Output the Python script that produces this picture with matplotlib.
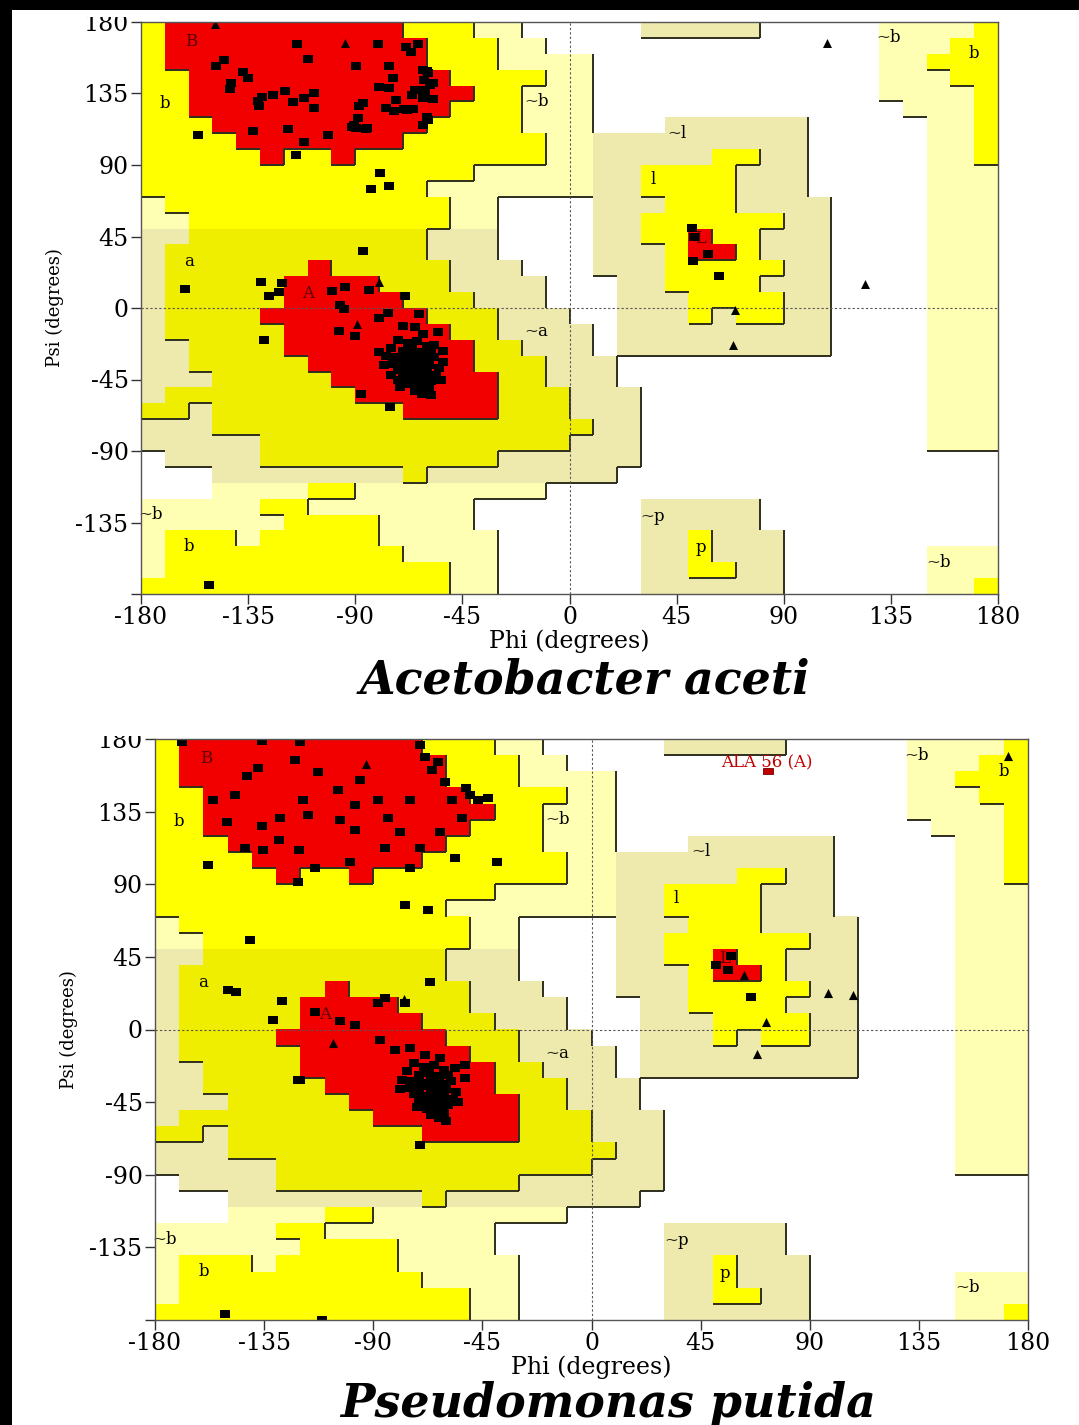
import numpy as np
import matplotlib.pyplot as plt
from matplotlib.colors import ListedColormap
from matplotlib.collections import LineCollection
from matplotlib.patches import Rectangle

# Ramachandran region map, 10 degree cells.
# rows: psi 180 -> -180 (top to bottom), cols: phi -180 -> 180
# R core, Y/y allowed, P/K generously allowed, . disallowed
region_rows = [
    "YRRRRRRRRRRYYYPP.....KKKKK.....PPPPY",
    "YRRRRRRRRRRRYYYPP..............PPPYY",
    "YRRRRRRRRRRRYYYPPPP............PPYYY",
    "YYRRRRRRRRRRRYYYYPP............PPPYY",
    "YYRRRRRRRRRRRRYYPPP............PPPPY",
    "YYRRRRRRRRRRRYYYPPP.............PPPY",
    "YYYRRRRRRRRRYYYYPPP...KKKKKK.....PPY",
    "YYYYRRRRRRRYYYYYYPPKKKKKKKKK.....PPY",
    "YYYYYRYYRYYYYYYYYPPKKKKKYYKK.....PPY",
    "YYYYYYYYYYYYYYPPPPPKKYYYYKKK.....PPP",
    "YYYYYYYYYYYYPPPPPPPKKYYYYKKK.....PPP",
    "PYYYYYYYYYYYYPP....KKKYYYKKKK....PPP",
    "PPYYYYYYYYYYYPP....KKYYYYYYKK....PPP",
    "KKyyyyyyyyyyKKK....KKYYRYYKKK....PPP",
    "KyyyyyyyyyyyKKK....KKKYRRYKKK....PPP",
    "KyyyyyyRyyyyyKKK...KKKYYYYYKK....PPP",
    "KyyyyyRRRRyyyKKKK...KKYYYYKKK....PPP",
    "KyyyyyRRRRRyyyKKK...KKKYYYYKK....PPP",
    "KyyyyRRRRRRRyyyKKK..KKKYKYYKK....PPP",
    "KyyyyyRRRRRRRyyKKKK.KKKKKKKKK....PPP",
    "KKyyyyRRRRRRRRyyKKK.KKKKKKKKK....PPP",
    "KKyyyyyRRRRRRRyyyKKK.............PPP",
    "KKKyyyyyRRRRRRRyyKKK.............PPP",
    "KyyyyyyyyRRRRRRyyyKKK............PPP",
    "yyKyyyyyyyyRRRRyyyKKK............PPP",
    "KKKyyyyyyyyyyyyyyyyKK............PPP",
    "KKKKKyyyyyyyyyyyyyKKK............PPP",
    ".KKKKyyyyyyyyyyKKKKKK...............",
    "...KKKKKKKKyKKKKKKKK................",
    "...PPPPYYPPPPPPPP...................",
    "PPPPPYYPPPPPPP.......KKKKK..........",
    "PPPPPPYYYYPPPP.......KKKKK..........",
    "PYYYPYYYYYPPPPP......KKYKKK.........",
    "PYYYYYYYYYYPPPP......KKYKKK......PPP",
    "PYYYYYYYYYYYYPP......KKYYKK......PPP",
    "YYYYYYYYYYYYYPP......KKKKKK......PPY",
]

codes = ".PKYyR"
region_colors = ["#ffffff", "#ffffb4", "#eeeaae", "#ffff00", "#efed00", "#f20000"]
levels = {".": 0, "P": 1, "K": 1, "Y": 2, "y": 2, "R": 3}

region_labels = [
    ("B", -159, 168), ("b", -170, 129), ("a", -160, 29), ("A", -110, 9),
    ("~b", -14, 130), ("~a", -14, -15), ("~l", 45, 110), ("l", 35, 81),
    ("L", 55, 44), ("~p", 35, -131), ("p", 55, -151), ("~b", 134, 170),
    ("b", 170, 160), ("~b", -176, -130), ("b", -160, -150), ("~b", 155, -160),
]

# Acetobacter aceti residues
aceti_sq_phi = [
    -114.5, -80.3, -68.7, -66.6, -63.7, -109.7, -148.5, -145, -89.7, -76,
    -137, -135, -142, -142.5, -60, -61, -74.3, -75.7, -80, -119.4,
    -131, -129, -124.7, -130.3, -116.3, -111.4, -107.2, -107.5, -86.9, -88.3,
    -77, -73.6, -72.9, -69.4, -65.9, -133, -118.4, -101.3, -111.4, -89,
    -90.4, -89.7, -85.5, -155.9, -115, -79.5, -83.4, -75.7, -61.6, -59.5,
    -60.7, -62.8, -58.6, -57.3, -57.3, -59.9, -59.5, -61.6, -66.3, -64.9,
    -68.4, -61.7, -91.5, -85.2,
    -86.9, -161.4, -129.6, -120.9, -126.1, -121.9, -99.9, -94.2, -84.4, -96.4,
    -94.6, -69.1, -128.2, -80.2, -76.4, -63.1, -97, -90, -70.1, -64.8,
    -61.7, -55.1, -53, -87.6, -75.4, -151.3,
    -72, -68, -64, -60, -75, -70, -66, -62, -58, -77,
    -73, -69, -65, -61, -57, -74, -70, -67, -63, -59,
    -55, -72, -68, -64, -60, -56, -70, -66, -62, -58,
    -67, -63, -60, -65, -62, -78, -80, -57, -53, -66,
    -61, -69, -75, -54, -71, -58,
    -71, -67, -64, -61, -69, -65, -62, -59, -68, -64,
    -60, -66, -63, -70, -65, -61, -67, -63, -72, -59,
    51.5, 52.2, 58.3, 52, 62.8,
]
aceti_sq_psi = [
    166, 166, 164, 161, 166, 157, 152, 156, 152, 152,
    148.5, 145, 141.6, 138, 149, 143.7, 145, 138.5, 139, 136.8,
    130.5, 133, 134, 127, 129.5, 132, 135, 126, 129, 127,
    126, 124, 131, 125, 125, 111.6, 112.7, 109, 104.5, 119.6,
    115, 113, 112.7, 108.7, 96, 84.8, 75, 76.6, 149.8, 147.9,
    136, 137.2, 140.4, 141.7, 131.6, 120.3, 118.4, 115.2, 134, 137.2,
    124.6, 132, 114.1, 113.1,
    36.1, 12.2, 16.4, 15.7, 7.4, 9.9, 10.5, 13.2, 11.1, 2.1,
    -0.4, 7.8, -19.9, -6.3, -3.1, -3.8, -14.3, -17.4, -11.5, -12.1,
    -16.3, -15.1, -33.8, -54.1, -62.1, -174.1,
    -20, -22, -21, -24, -25, -27, -26, -28, -27, -30,
    -31, -32, -30, -33, -31, -35, -36, -34, -37, -36,
    -38, -39, -40, -41, -40, -42, -43, -44, -45, -46,
    -48, -49, -51, -52, -54, -36, -28, -23, -27, -38,
    -43, -46, -42, -45, -50, -55,
    -33, -29, -33, -30, -38, -35, -39, -33, -44, -37,
    -44, -41, -47, -47, -46, -48, -30, -42, -45, -50,
    50.2, 44.9, 33.8, 29.8, 20.3,
]
aceti_tri_phi = [-149, -94.2, 108.1, 124.2, 69.5, 68.8, -89.4, -79.9]
aceti_tri_psi = [179, 167, 166.8, 15.1, -1.2, -23.3, -10, 16.4]

# Pseudomonas putida residues
putida_sq_phi = [
    -168.9, -135.9, -122.3, -137.5, -156, -142, -147, -112.8, -119, -117,
    -128.5, -135.9, -150.3, -135.5, -120.6, -114, -121, -142.9, -104.5, -97.5,
    -97.5, -88, -74.8, -70.7, -68.7, -65.8, -60.4, -57.5, -50, -53.4,
    -62.5, -70.7, -79, -84, -85, -99.6, -74.8, -56.3, -46.8, -42.7,
    -51.8, -63.3, -120, -103.7, -129, -95.5,
    -158.1, -39, -140.8, -76.9, -67.4, -149.9, -146.6, -131.3, -127.6, -121,
    -114, -111, -151, -66.6, -70.7,
    -85, -88, -76.9, -103.7, -97.5, -87.2, -81, -74.8, -68.7, -62.5,
    -56.3, -52.2, -120.2,
    -73, -69, -65, -61, -76, -71, -67, -63, -59, -78,
    -74, -70, -66, -62, -58, -75, -71, -68, -64, -60,
    -56, -73, -69, -65, -61, -57, -71, -67, -63, -59,
    -68, -64, -61, -66, -63, -79, -55, -52, -60, -72,
    -70, -66, -62, -68, -64, -60, -67, -63, -65, -61,
    51.3, 57.5, 56.3, 65.8,
]
putida_sq_psi = [
    178.1, 178.8, 167, 162, 142, 157, 145, 159.6, 142, 133,
    131, 126, 128.6, 111, 111, 100, 91.4, 112.5, 148.4, 139,
    123.6, 142, 142, 176, 169, 160.8, 153.4, 142, 145.3, 131,
    122.4, 112.5, 122.4, 131, 112.5, 103.8, 100, 106.3, 142, 143.4,
    149.6, 165.7, 178, 129.8, 117.4, 154.6,
    102, 103.8, 55.5, 77.1, 74, 24.5, 23.2, 5.9, 17.7, -31.3,
    10.9, -180, -176, 29.4, -71.5,
    19.5, 16.4, 16.4, 5.3, 2.8, -6.5, -12.7, -11.5, -15.8, -17.6,
    -23.8, -22, -31.3,
    -21, -23, -22, -25, -26, -28, -27, -29, -28, -31,
    -32, -33, -31, -34, -32, -36, -37, -35, -38, -37,
    -39, -40, -41, -42, -41, -43, -44, -45, -46, -47,
    -49, -50, -52, -53, -55, -37, -45, -30, -57, -48,
    -35, -36, -35, -42, -44, -43, -48, -48, -39, -38,
    40, 45.6, 36.9, 20.1,
]
putida_tri_phi = [-93, -77.3, -106.6, 171.8, 97.5, 107.8, 72, 62.9, 68.2]
putida_tri_psi = [164.5, 19, -8.3, 169.5, 22.6, 21.4, 4.7, 33.8, -15.2]

outlier_phi, outlier_psi, outlier_label = 72.8, 160.2, "ALA 56 (A)"

SERIF = "DejaVu Serif"
W, H = 1079, 1425

grid_idx = np.array([[codes.index(ch) for ch in row] for row in region_rows])
grid_lev = np.array([[levels[ch] for ch in row] for row in region_rows])
cmap = ListedColormap(region_colors)

rect_marker = [(-1.4, -1), (1.4, -1), (1.4, 1), (-1.4, 1), (-1.4, -1)]


def boundary_segments():
    segs = []
    n = len(region_rows)
    for r in range(n):
        top = 180 - 10 * r
        for c in range(n):
            left = -180 + 10 * c
            if c < n - 1 and grid_lev[r, c] > grid_lev[r, c + 1]:
                segs.append([(left + 10, top), (left + 10, top - 10)])
            if r < n - 1 and grid_lev[r, c] > grid_lev[r + 1, c]:
                segs.append([(left, top - 10), (left + 10, top - 10)])
    return segs


def draw_panel(ax, sq_phi, sq_psi, tri_phi, tri_psi, ms):
    ax.imshow(grid_idx, cmap=cmap, vmin=-0.5, vmax=5.5, extent=[-180, 180, -180, 180],
              interpolation="nearest", aspect="auto", zorder=0)
    ax.add_collection(LineCollection(boundary_segments(), colors="#2e2e1e", linewidths=1.4, zorder=1))
    ax.axhline(0, color="#555555", linestyle=(0, (2, 2)), linewidth=0.8, zorder=1)
    ax.axvline(0, color="#555555", linestyle=(0, (2, 2)), linewidth=0.8, zorder=1)
    for txt, x, y in region_labels:
        col = "#5a0000" if txt in ("A", "B", "L") else "black"
        ax.text(x, y, txt, fontsize=12, family=SERIF, color=col, ha="center", va="center", zorder=2)
    ax.scatter(sq_phi, sq_psi, marker=rect_marker, s=ms, color="black", linewidths=0, zorder=3)
    ax.scatter(tri_phi, tri_psi, marker="^", s=ms * 0.8, color="black", linewidths=0, zorder=3)
    ax.set_xlim(-180, 180)
    ax.set_ylim(-180, 180)
    ticks = np.arange(-180, 181, 45)
    ax.set_xticks(ticks)
    ax.set_yticks(ticks)
    ax.set_xticklabels([str(t) for t in ticks], family=SERIF, fontsize=17)
    ax.set_yticklabels([str(t) if t > -180 else "" for t in ticks], family=SERIF, fontsize=17)
    ax.tick_params(direction="out", length=7, width=1, pad=2, colors="#333333", labelcolor="black")
    ax.set_xlabel("Phi (degrees)", family=SERIF, fontsize=17, labelpad=0)
    ax.set_ylabel("Psi (degrees)", family=SERIF, fontsize=13, labelpad=8)
    for s in ax.spines.values():
        s.set_color("#555555")
        s.set_linewidth(1)
        s.set_zorder(4)


fig = plt.figure(figsize=(W / 100, H / 100), dpi=100)

ax1 = fig.add_axes([141 / W, 1 - 594 / H, 857 / W, 572 / H])
draw_panel(ax1, aceti_sq_phi, aceti_sq_psi, aceti_tri_phi, aceti_tri_psi, 52)

ax2 = fig.add_axes([155 / W, 1 - 1320 / H, 873 / W, 581 / H])
draw_panel(ax2, putida_sq_phi, putida_sq_psi, putida_tri_phi, putida_tri_psi, 54)
ax2.scatter([outlier_phi], [outlier_psi], marker=rect_marker, s=44, color="#c00000",
            edgecolors="#700000", linewidths=0.6, zorder=3)
ax2.text(outlier_phi - 0.5, outlier_psi + 2, outlier_label, fontsize=12, family=SERIF,
         color="#c00000", ha="center", va="baseline", zorder=3)

fig.text(585 / W, 1 - 693 / H, "Acetobacter aceti", ha="center", va="baseline",
         fontsize=33, fontweight="bold", style="italic", family=SERIF)
fig.text(608 / W, 1 - 1417 / H, "Pseudomonas putida", ha="center", va="baseline",
         fontsize=33, fontweight="bold", style="italic", family=SERIF)

# black frame of the composite image
fig.add_artist(Rectangle((0, 1 - 10 / H), 1, 10 / H, transform=fig.transFigure,
                         facecolor="black", edgecolor="none", zorder=10))
fig.add_artist(Rectangle((0, 0), 12 / W, 1, transform=fig.transFigure,
                         facecolor="black", edgecolor="none", zorder=10))
# cropped tops of the first psi labels
fig.add_artist(Rectangle((60 / W, 1 - 17 / H), 78 / W, 7 / H, transform=fig.transFigure,
                         facecolor="white", edgecolor="none", zorder=10))
fig.add_artist(Rectangle((90 / W, 1 - 736 / H), 62 / W, 18 / H, transform=fig.transFigure,
                         facecolor="white", edgecolor="none", zorder=10))

fig.savefig("out.png", dpi=100)
